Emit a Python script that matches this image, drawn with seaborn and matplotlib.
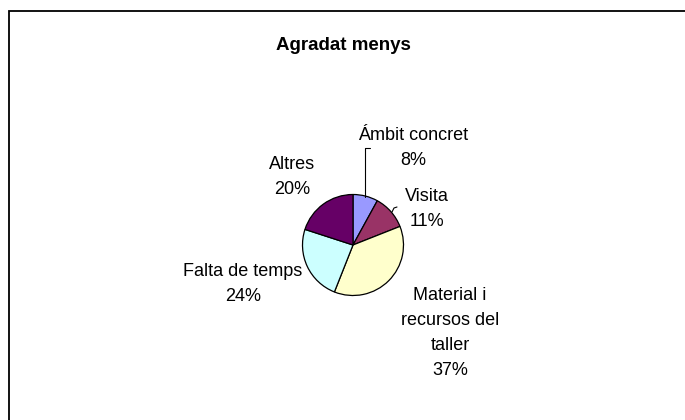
import matplotlib
matplotlib.use("Agg")
import matplotlib.pyplot as plt
import matplotlib.patches as mpatches
import seaborn as sns

# Survey answers: what participants liked least
categories = ["Ámbit concret", "Visita", "Material i\nrecursos del\ntaller", "Falta de temps", "Altres"]
percentages = [8, 11, 37, 24, 20]
slice_colors = ["#9999FF", "#993366", "#FFFFCC", "#CCFFFF", "#660066"]
title = "Agradat menys"

sns.set_theme(style="white")
plt.rcParams["font.family"] = ["Liberation Sans", "DejaVu Sans"]
plt.rcParams["text.color"] = "black"

W, H = 685, 420
fig = plt.figure(figsize=(W / 100, H / 100), dpi=100)
fig.patch.set_facecolor("white")

# chart-area border (runs off the right and bottom edges)
fig.patches.append(mpatches.Rectangle((9 / W, -0.05), 1.2, (H - 11) / H + 0.05,
                                      transform=fig.transFigure, fill=False,
                                      edgecolor="black", linewidth=1.3))

# pie axes: centre (353, 245) px, radius 50 px
cx, cy, r = 353, 245, 50.5
ax = fig.add_axes([(cx - r) / W, (H - cy - r) / H, 2 * r / W, 2 * r / H])
wedges, _ = ax.pie(percentages, colors=slice_colors, startangle=90, counterclock=False,
                   radius=1.0, wedgeprops=dict(edgecolor="black", linewidth=0.9))
ax.set_xlim(-1, 1)
ax.set_ylim(-1, 1)
ax.set_aspect("equal")
ax.axis("off")

def px(x, y):
    return x / W, 1 - y / H

label_pos = [(413, 148), (427, 209), (450, 333), (243, 284), (292, 177)]
for name, pct, (x, y) in zip(categories, percentages, label_pos):
    fig.text(*px(x, y), f"{name}\n{pct}%", ha="center", va="center", fontsize=13,
             linespacing=1.6, color="black")

# leader lines
fig.add_artist(plt.Line2D([365 / W, 365 / W, 370 / W], [1 - 197 / H, 1 - 148 / H, 1 - 148 / H],
                          color="black", linewidth=0.8))
fig.add_artist(plt.Line2D([392 / W, 394 / W, 397 / W], [1 - 212 / H, 1 - 208 / H, 1 - 207 / H],
                          color="black", linewidth=0.8))

fig.text(*px(343, 45), title, ha="center", va="center", fontsize=13.5, fontweight="bold",
         color="black")

fig.savefig("out.png", dpi=100)
